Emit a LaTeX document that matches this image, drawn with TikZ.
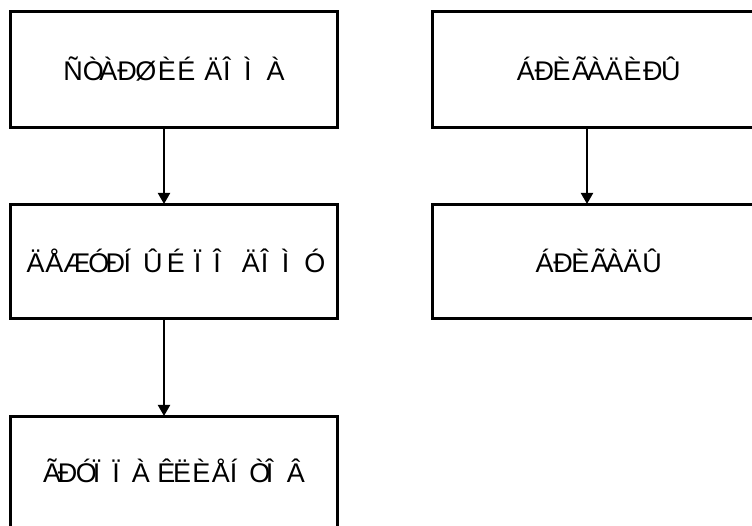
\documentclass[tikz,border=0pt]{standalone}
\usepackage{fontspec}
\setmainfont{Liberation Sans}
\usetikzlibrary{arrows.meta}
% one glyph set on a fixed advance width (in em)
\newcommand\gl[2]{\makebox[#1em][l]{#2}}
\newcommand\gsp{\gl{0.278}{}}
\begin{document}
\begin{tikzpicture}[x=1pt,y=1pt,
  box/.style={draw=black, line width=3pt, fill=white, rectangle,
    minimum width=327pt, inner sep=0pt},
  caption/.style={font=\fontsize{27}{32}\selectfont, inner sep=0pt},
  link/.style={draw=black, line width=2pt,
    -{Triangle[length=11pt,width=12pt]}, shorten >=-1pt}]
\useasboundingbox (0,0) rectangle (752,526);
% left column
\node[box, minimum height=116pt] (b1) at (174,456.5) {};
\node[box, minimum height=114pt] (b2) at (174,264.5) {};
\node[box, minimum height=114pt] (b3) at (174,52.5) {};
% right column (runs past the right edge)
\node[box, minimum width=330pt, minimum height=116pt] (r1) at (597,456.5) {};
\node[box, minimum width=330pt, minimum height=114pt] (r2) at (597,264.5) {};
% captions
\node[caption] (t1) at (174,457) {\gl{.722}{Ñ}\gl{.611}{Ò}\gl{.667}{À}\gl{.667}{Ð}\gl{.833}{Ø}\gl{.722}{È}\gl{.722}{É}\gsp\gl{.698}{Ä}\gl{.778}{Î}\gl{.833}{Ì}\gl{.667}{À}};
\node[caption] (t2) at (174,265) {\gl{.698}{Ä}\gl{.667}{Å}\gl{.927}{Æ}\gl{.635}{Ó}\gl{.667}{Ð}\gl{.722}{Í}\gl{.885}{Û}\gl{.722}{É}\gsp\gl{.722}{Ï}\gl{.778}{Î}\gsp\gl{.698}{Ä}\gl{.778}{Î}\gl{.833}{Ì}\gl{.635}{Ó}};
\node[caption] (t3) at (174,55) {\gl{.542}{Ã}\gl{.667}{Ð}\gl{.635}{Ó}\gl{.722}{Ï}\gl{.722}{Ï}\gl{.667}{À}\gsp\gl{.583}{Ê}\gl{.708}{Ë}\gl{.722}{È}\gl{.667}{Å}\gl{.722}{Í}\gl{.611}{Ò}\gl{.778}{Î}\gl{.667}{Â}};
\node[caption] (u1) at (601,457) {\gl{.656}{Á}\gl{.667}{Ð}\gl{.722}{È}\gl{.542}{Ã}\gl{.667}{À}\gl{.698}{Ä}\gl{.722}{È}\gl{.667}{Ð}\gl{.885}{Û}};
\node[caption] (u2) at (601,265) {\gl{.656}{Á}\gl{.667}{Ð}\gl{.722}{È}\gl{.542}{Ã}\gl{.667}{À}\gl{.698}{Ä}\gl{.885}{Û}};
% connector columns
\coordinate (lx) at (164,0);
\coordinate (rx) at (587,0);
\draw[link] (b1.south -| lx) -- (b2.north -| lx);
\draw[link] (b2.south -| lx) -- (b3.north -| lx);
\draw[link] (r1.south -| rx) -- (r2.north -| rx);
\end{tikzpicture}
\end{document}
